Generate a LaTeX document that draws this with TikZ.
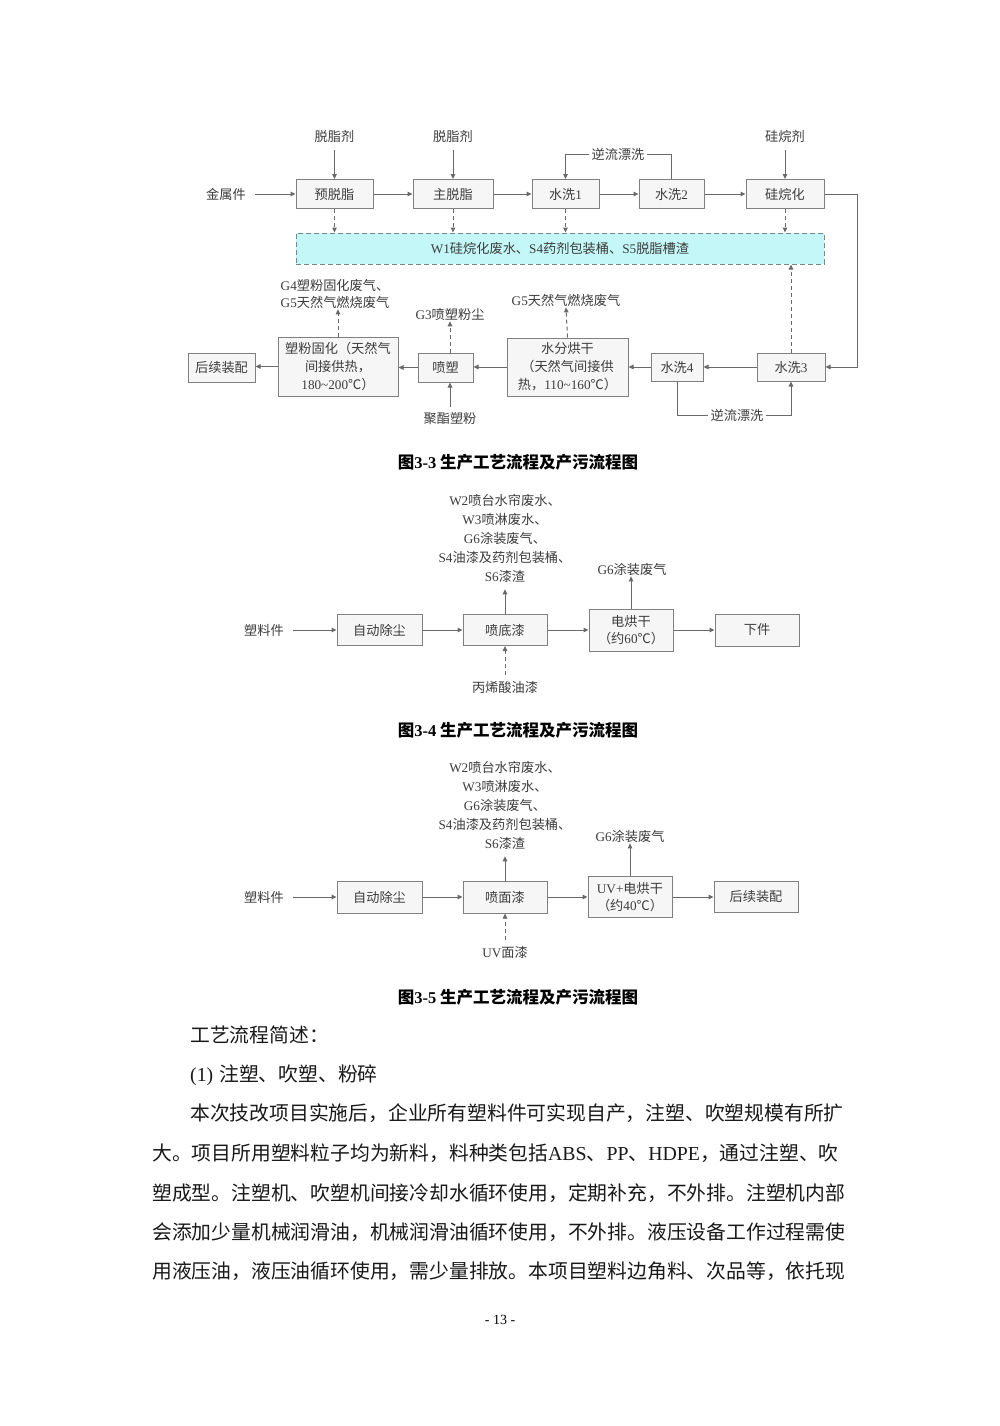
\documentclass[tikz,border=0pt]{standalone}
\usepackage{fontspec}
\setmainfont{Noto Sans CJK SC}
\newfontfamily\latfont{Liberation Serif}
\usetikzlibrary{arrows.meta,positioning}
\definecolor{boxgray}{RGB}{128,128,128}
\definecolor{boxfill}{RGB}{246,246,246}
\definecolor{linegray}{RGB}{105,105,105}
\definecolor{txtgray}{RGB}{60,60,60}
\definecolor{cyanfill}{RGB}{196,247,247}
\definecolor{cyanedge}{RGB}{120,135,135}
\XeTeXlinebreaklocale "zh"
\XeTeXlinebreakskip=0pt plus 3pt
\newcommand{\latn}[1]{{\latfont #1}}
\newcommand{\dfont}{\fontsize{13.2}{19}\selectfont}
\begin{document}
\begin{tikzpicture}[x=1pt,y=-1pt,>=Stealth,
 proc/.style={draw=boxgray,fill=boxfill,line width=1pt,align=center,
  inner sep=2pt,font=\dfont,text=txtgray},
 lbl/.style={font=\dfont,text=txtgray,align=center,inner sep=1pt},
 flow/.style={-{Triangle[length=5pt,width=4.5pt]},draw=linegray,line width=1pt},
 emit/.style={flow,dash pattern=on 4pt off 3pt},
 capt/.style={font=\bfseries\fontsize{16.5}{18}\selectfont},
 body/.style={font=\fontsize{19.8}{24}\selectfont,anchor=west,inner sep=0pt,text=black!90}]
\useasboundingbox[fill=white] (0,0) rectangle (1000,1426);

% --- Fig 3-3 ---
\node[lbl] (metal) at (226,194) {金属件};
\node[proc,minimum width=77pt,minimum height=29pt] (pre) at (334.5,194) {预脱脂};
\node[proc,minimum width=80pt,minimum height=29pt] (mainq) at (453,194) {主脱脂};
\node[proc,minimum width=67pt,minimum height=29pt] (wa1) at (565.5,194) {水洗\latn{1}};
\node[proc,minimum width=65pt,minimum height=29pt] (wa2) at (671.5,194) {水洗\latn{2}};
\node[proc,minimum width=78pt,minimum height=29pt] (sil) at (785,194) {硅烷化};
\node[lbl] (ag1) at (334.5,136) {脱脂剂};
\node[lbl] (ag2) at (453,136) {脱脂剂};
\node[lbl] (ag3) at (785,136) {硅烷剂};
\node[lbl,fill=white,inner sep=2pt] (rinse1) at (618,154) {逆流漂洗};
\node[draw=cyanedge,fill=cyanfill,line width=1pt,dash pattern=on 5pt off 3pt,
 minimum width=528pt,minimum height=31pt,font=\dfont,text=txtgray] (waste) at (560,248.5)
 {\latn{W1}硅烷化废水、\latn{S4}药剂包装桶、\latn{S5}脱脂槽渣};

\draw[flow,shorten <=8pt] (metal) -- (pre);
\draw[flow] (pre) -- (mainq);
\draw[flow] (mainq) -- (wa1);
\draw[flow] (wa1) -- (wa2);
\draw[flow] (wa2) -- (sil);
\foreach \a/\b in {ag1/pre,ag2/mainq,ag3/sil}
 \draw[flow,shorten <=7pt] (\a) -- (\b);
\draw[draw=linegray,line width=1pt] (wa2.north) |- (rinse1.east);
\draw[flow] (rinse1.west) -| (wa1.north);
\foreach \b in {pre,mainq,wa1,sil}
 \draw[emit] (\b.south) -- (\b.south |- waste.north);

% second row
\node[proc,minimum width=68pt,minimum height=28pt] (wa3) at (791,367) {水洗\latn{3}};
\node[proc,minimum width=52pt,minimum height=28pt] (wa4) at (677,367) {水洗\latn{4}};
\node[proc,minimum width=121pt,minimum height=58pt,font=\fontsize{13.2}{18}\selectfont] (dry) at (567.5,367)
 {水分烘干\\（天然气间接供\\热，\latn{110\textasciitilde160}℃）};
\node[proc,minimum width=55pt,minimum height=29pt] (spr) at (445.5,367.5) {喷塑};
\node[proc,minimum width=120pt,minimum height=59pt,font=\fontsize{13.2}{18}\selectfont] (cure) at (338,366.5)
 {塑粉固化（天然气\\间接供热，\\\latn{180\textasciitilde200}℃）};
\node[proc,minimum width=67pt,minimum height=29pt] (asm) at (221.5,367.5) {后续装配};
\node[lbl] (g5) at (566,300) {\latn{G5}天然气燃烧废气};
\node[lbl] (g3) at (450,314) {\latn{G3}喷塑粉尘};
\node[lbl,align=left,font=\fontsize{13.2}{17}\selectfont] (g45) at (335,293.5)
 {\latn{G4}塑粉固化废气、\\\latn{G5}天然气燃烧废气};
\node[lbl] (powder) at (450,419) {聚酯塑粉};
\node[lbl,fill=white,inner sep=2pt] (rinse2) at (737,415) {逆流漂洗};

\draw[draw=linegray,line width=1pt] (sil.east) -- ++(33,0) coordinate (turn);
\draw[flow] (turn) |- (wa3.east);
\draw[flow] (wa3) -- (wa4);
\draw[flow] (wa4) -- (dry);
\draw[flow] (dry.west) -- (dry.west -| spr.east);
\draw[flow] (spr.west) -- (spr.west -| cure.east);
\draw[flow] (cure.west) -- (cure.west -| asm.east);
\draw[emit] (wa3.north) -- (wa3.north |- waste.south);
\draw[emit] (dry.north) -- (g5.south);
\draw[emit] (g3.south |- spr.north) -- (g3.south);
\draw[emit] (cure.north) -- (cure.north |- g45.south);
\draw[flow,shorten <=5pt] (powder.north) -- (powder.north |- spr.south);
\draw[draw=linegray,line width=1pt] (wa4.south) |- (rinse2.west);
\draw[flow] (rinse2.east) -| (wa3.south);

\node[capt] (cap1) at (518,462) {图\latn{3-3} 生产工艺流程及产污流程图};

% --- Fig 3-4 ---
\node[lbl] (pl1) at (264,630) {塑料件};
\node[proc,minimum width=85pt,minimum height=31pt] (dust1) at (379.5,630) {自动除尘};
\node[proc,minimum width=84pt,minimum height=31pt] (base) at (505,630) {喷底漆};
\node[proc,minimum width=84pt,minimum height=42pt,font=\fontsize{13.2}{17}\selectfont] (ebake1) at (631,630)
 {电烘干\\（约\latn{60}℃）};
\node[proc,minimum width=84pt,minimum height=32pt] (off) at (757,630) {下件};
\node[lbl] (out1) at (505,538) {\latn{W2}喷台水帘废水、\\\latn{W3}喷淋废水、\\\latn{G6}涂装废气、\\\latn{S4}油漆及药剂包装桶、\\\latn{S6}漆渣};
\node[lbl] (g6a) at (632,569) {\latn{G6}涂装废气};
\node[lbl] (acryl) at (505,687) {丙烯酸油漆};
\draw[flow,shorten <=8pt] (pl1) -- (dust1);
\draw[flow] (dust1) -- (base);
\draw[flow] (base) -- (ebake1);
\draw[flow] (ebake1) -- (off);
\draw[flow,shorten >=6pt] (base.north) -- (base.north |- out1.south);
\draw[flow] (ebake1.north) -- (ebake1.north |- g6a.south);
\draw[emit,shorten <=5pt] (acryl.north) -- (base.south);

\node[capt] (cap2) at (518,730) {图\latn{3-4} 生产工艺流程及产污流程图};

% --- Fig 3-5 ---
\node[lbl] (pl2) at (264,897) {塑料件};
\node[proc,minimum width=85pt,minimum height=32pt] (dust2) at (379.5,897) {自动除尘};
\node[proc,minimum width=84pt,minimum height=32pt] (top) at (505,897) {喷面漆};
\node[proc,minimum width=84pt,minimum height=41pt,font=\fontsize{13.2}{17}\selectfont] (ebake2) at (630,897)
 {\latn{UV+}电烘干\\（约\latn{40}℃）};
\node[proc,minimum width=84pt,minimum height=31pt] (asm2) at (756,897) {后续装配};
\node[lbl] (out2) at (505,805) {\latn{W2}喷台水帘废水、\\\latn{W3}喷淋废水、\\\latn{G6}涂装废气、\\\latn{S4}油漆及药剂包装桶、\\\latn{S6}漆渣};
\node[lbl] (g6b) at (630,836) {\latn{G6}涂装废气};
\node[lbl] (uv) at (505,952) {\latn{UV}面漆};
\draw[flow,shorten <=8pt] (pl2) -- (dust2);
\draw[flow] (dust2) -- (top);
\draw[flow] (top) -- (ebake2);
\draw[flow] (ebake2) -- (asm2);
\draw[flow,shorten >=6pt] (top.north) -- (top.north |- out2.south);
\draw[flow] (ebake2.north) -- (ebake2.north |- g6b.south);
\draw[emit,shorten <=5pt] (uv.north) -- (top.south);

\node[capt] (cap3) at (518,997) {图\latn{3-5} 生产工艺流程及产污流程图};

% --- text ---
\node[body] (t1) at (190,1035) {工艺流程简述：};
\node[body] (t2) at (190,1075) {\latn{(1)}\hspace{6pt}注塑、吹塑、粉碎};
\node[body] (t3) at (190,1113) {\makebox[658pt][s]{本次技改项目实施后，企业所有塑料件可实现自产，注塑、吹塑规模有所扩}};
\node[body] (t4) at (152,1153) {\makebox[696pt][s]{大。项目所用塑料粒子均为新料，料种类包括\latn{ABS}、\latn{PP}、\latn{HDPE}，通过注塑、吹}};
\node[body] (t5) at (152,1193) {\makebox[696pt][s]{塑成型。注塑机、吹塑机间接冷却水循环使用，定期补充，不外排。注塑机内部}};
\node[body] (t6) at (152,1232) {\makebox[696pt][s]{会添加少量机械润滑油，机械润滑油循环使用，不外排。液压设备工作过程需使}};
\node[body] (t7) at (152,1271) {\makebox[696pt][s]{用液压油，液压油循环使用，需少量排放。本项目塑料边角料、次品等，依托现}};
\node[font=\latfont\fontsize{14}{16}\selectfont] (pg) at (500,1320) {- 13 -};
\end{tikzpicture}
\end{document}
